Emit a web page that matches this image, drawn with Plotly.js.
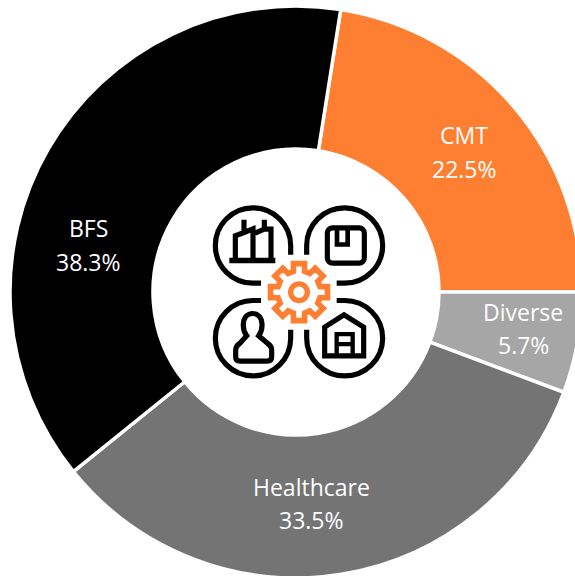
<!DOCTYPE html>
<html>
<head>
<meta charset="utf-8">
<script src="https://cdn.plot.ly/plotly-3.0.1.min.js"></script>
<style>
html,body{margin:0;padding:0;background:#fff;width:575px;height:576px;overflow:hidden}
#wrap{position:absolute;left:0;top:0;width:575px;height:576px;overflow:hidden}
#chart{position:absolute;left:10px;top:5.5px;width:572px;height:572px}
</style>
</head>
<body>
<div id="wrap"><div id="chart"></div></div>
<script>
const categories = ["CMT", "Diverse", "Healthcare", "BFS"];
const shares = [22.5, 5.7, 33.5, 38.3];
const sliceColors = ["#FF7F32", "#A6A6A6", "#747474", "#000000"];
const labelCentersX = [464, 523, 311, 88];
const nameLineY = [134, 311, 486, 227];
const shareLineY = [168, 344, 519, 261];

const W = 572, H = 572, OX = 10, OY = 5.5;
const px = x => (x - OX) / W;
const py = y => 1 - (y - OY) / H;

let gear = "";
for (let i = 0; i < 8; i++) {
  const a = i * Math.PI / 4 - Math.PI / 2, p = (r, d) => {
    const t = a + d * Math.PI / 180;
    return (297 + r * Math.cos(t)).toFixed(1) + " " + (290 + r * Math.sin(t)).toFixed(1);
  };
  gear += (i ? "L" : "M") + p(65, -15) + "L" + p(87, -11) + "L" + p(87, 11) + "L" + p(65, 15);
}
gear += "Z";

const icon = `<svg xmlns="http://www.w3.org/2000/svg" width="570" height="570" viewBox="0 0 570 570">
<g fill="none" stroke="#000" stroke-width="15.5">
<path d="M183 263H160A113 113 0 1 1 272 150V178"/>
<path d="M320 178V150A114 113 0 1 1 434 263H410"/>
<path d="M183 315H160A113 113 0 1 0 272 428V403"/>
<path d="M320 403V428A114 113 0 1 0 434 315H410"/>
<path d="M88 195H226" stroke-width="17"/>
<path d="M106 190V121L132 111L159 100V190M132 111V73M165 113L193 101V73M193 101H213V190"/>
<rect x="382" y="97" width="111" height="106" rx="16"/>
<path d="M411 97V147H443V97" stroke-width="14"/>
<path d="M120 497H202Q215 497 215 484V463Q215 452 203 444L176 421Q187 406 186 386C185 366 173 354 158 354C143 354 131 366 130 386Q129 406 140 421L119 444Q107 452 107 463V484Q107 497 120 497Z"/>
<path d="M374 481V395L432 358L491 395V481Z"/>
<path d="M410 481V416H458V481M410 446H458" stroke-width="13"/>
</g>
<path d="${gear}" fill="none" stroke="#FF7F32" stroke-width="17" stroke-linejoin="miter"/>
<circle cx="297" cy="290" r="25" fill="none" stroke="#FF7F32" stroke-width="16"/>
</svg>`;

const annotations = [];
categories.forEach((c, i) => {
  [[c, nameLineY[i]], [shares[i].toFixed(1) + "%", shareLineY[i]]].forEach(([t, y]) => {
    annotations.push({
      text: t, x: px(labelCentersX[i]), y: py(y), xref: "paper", yref: "paper",
      xanchor: "center", yanchor: "middle", showarrow: false,
      font: {family: "'Open Sans', sans-serif", size: 23, color: "#ffffff"}
    });
  });
});

Plotly.newPlot("chart", [{
  type: "pie", labels: categories, values: shares, sort: false,
  direction: "clockwise", rotation: 9, hole: 0.5,
  textinfo: "none", hoverinfo: "label+percent",
  marker: {colors: sliceColors, line: {color: "#ffffff", width: 3.5}},
  domain: {x: [0, 1], y: [0, 1]}
}], {
  width: W, height: H, margin: {l: 0, r: 0, t: 0, b: 0},
  showlegend: false, paper_bgcolor: "#ffffff",
  annotations,
  images: [{
    source: "data:image/svg+xml;charset=utf-8," + encodeURIComponent(icon),
    xref: "paper", yref: "paper", x: px(200), y: py(195),
    sizex: 190 / W, sizey: 190 / H, xanchor: "left", yanchor: "top",
    sizing: "stretch", layer: "above"
  }]
}, {displayModeBar: false});
</script>
</body>
</html>
